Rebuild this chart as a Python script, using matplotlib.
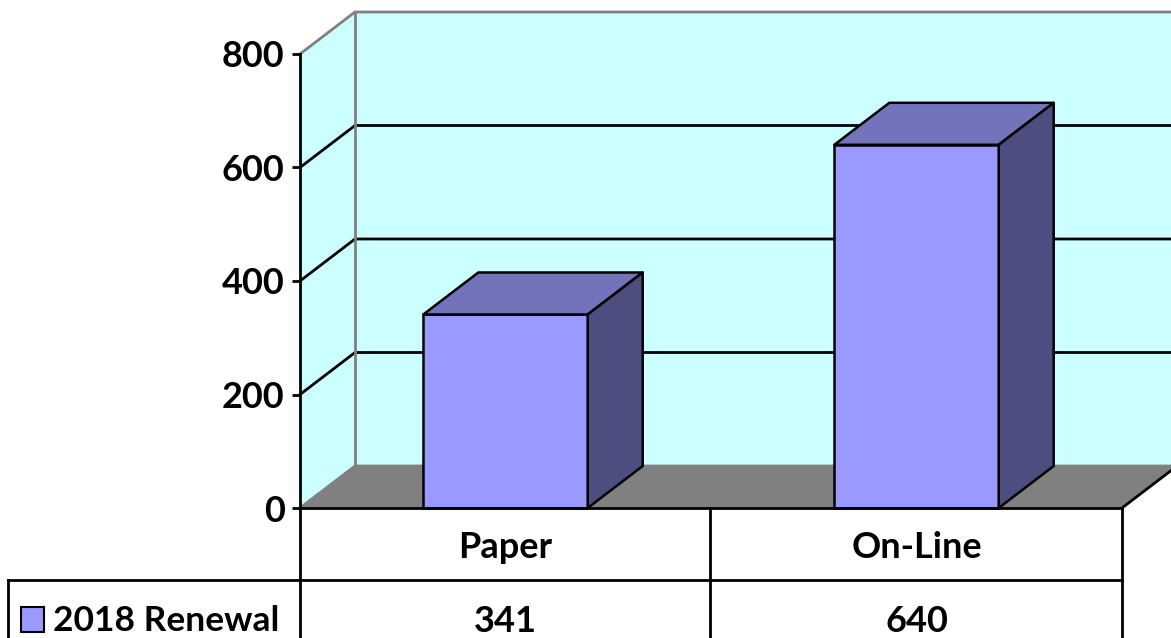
import matplotlib
matplotlib.use("Agg")
import matplotlib.pyplot as plt
from matplotlib.patches import Polygon
from matplotlib.lines import Line2D

plt.rcParams['font.family'] = ['Lato', 'DejaVu Sans']
plt.rcParams['font.weight'] = 'bold'

# data
categories = ["Paper", "On-Line"]
values = [341, 640]
series_name = "2018 Renewal"
y_ticks = [0, 200, 400, 600, 800]

W, H = 1171, 638
fig = plt.figure(figsize=(W / 100, H / 100), dpi=100)

# front plane of the 3d box (pixels -> figure fraction)
ax = fig.add_axes([300 / W, (H - 508) / H, 822 / W, 454 / H])
ax.set_xlim(0, len(categories))
ax.set_ylim(0, 800)
ax.patch.set_visible(False)

# depth offset in data units
dx = 55 / 822 * len(categories)
dy = 42 / 454 * 800
ymax = 800
xmax = len(categories) + 0.2  # wall runs off the right edge

wall = "#CCFFFF"
floor = "#808080"

# side wall and back wall
ax.add_patch(Polygon([(0, 0), (dx, dy), (dx, ymax + dy), (0, ymax)],
                     closed=True, fc=wall, ec="none", clip_on=False, zorder=0))
ax.add_patch(Polygon([(dx, dy), (xmax, dy), (xmax, ymax + dy), (dx, ymax + dy)],
                     closed=True, fc=wall, ec="none", clip_on=False, zorder=0))
# floor
ax.add_patch(Polygon([(0, 0), (len(categories), 0), (len(categories) + dx, dy), (dx, dy)],
                     closed=True, fc=floor, ec="none", clip_on=False, zorder=1))

# gridlines
for t in y_ticks:
    col = "black" if 0 < t < 800 else "gray"
    ax.add_line(Line2D([0, dx, xmax], [t, t + dy, t + dy], color=col, lw=2,
                       clip_on=False, zorder=1.5))
ax.add_line(Line2D([dx, dx], [dy, ymax + dy], color="gray", lw=2, clip_on=False, zorder=1.5))
ax.add_line(Line2D([len(categories), len(categories) + dx], [0, dy], color="black", lw=2,
                   clip_on=False, zorder=1.5))

# bars
bw = 0.4
for i, v in enumerate(values):
    x0 = i + 0.5 - bw / 2
    x1 = i + 0.5 + bw / 2
    kw = dict(closed=True, ec="black", lw=1.8, clip_on=False, zorder=3, joinstyle="round")
    ax.add_patch(Polygon([(x0, 0), (x1, 0), (x1, v), (x0, v)], fc="#9999FF", **kw))
    ax.add_patch(Polygon([(x0, v), (x1, v), (x1 + dx, v + dy), (x0 + dx, v + dy)],
                         fc="#7373BB", **kw))
    ax.add_patch(Polygon([(x1, 0), (x1 + dx, dy), (x1 + dx, v + dy), (x1, v)],
                         fc="#4D4D7F", **kw))

# axes styling
for s in ["top", "right", "bottom"]:
    ax.spines[s].set_visible(False)
ax.spines["left"].set_linewidth(2)
ax.spines["left"].set_zorder(4)
ax.set_xticks([])
ax.set_yticks(y_ticks)
ax.set_yticklabels([str(t) for t in y_ticks], fontsize=26, fontweight="bold")
ax.tick_params(axis="y", length=6, width=2, pad=5)
ax.add_line(Line2D([0, len(categories)], [0, 0], color="black", lw=2, clip_on=False, zorder=4))


# data table below the plot, in pixel coordinates
def fx(px):
    return px / W


def fy(py):
    return (H - py) / H


tab_lines = [
    ([300, 300], [508, 640]),
    ([710, 710], [508, 640]),
    ([1122, 1122], [508, 640]),
    ([8, 1122], [580, 580]),
    ([8, 8], [580, 640]),
]
for xs, ys in tab_lines:
    fig.add_artist(Line2D([fx(x) for x in xs], [fy(y) for y in ys],
                          color="black", lw=2))

for i, (c, v) in enumerate(zip(categories, values)):
    xc = ax.transData.transform((i + 0.5, 0))[0] / W
    fig.text(xc, fy(547), c, ha="center", va="center", fontsize=26, fontweight="bold")
    fig.text(xc, fy(621), str(v), ha="center", va="center", fontsize=26, fontweight="bold")

fig.add_artist(Polygon([(fx(21), fy(607)), (fx(44), fy(607)), (fx(44), fy(632)), (fx(21), fy(632))],
                       closed=True, fc="#9999FF", ec="black", lw=1.5))
fig.text(fx(53), fy(621), series_name, ha="left", va="center", fontsize=25.5, fontweight="bold")

fig.savefig("out.png", dpi=100)
